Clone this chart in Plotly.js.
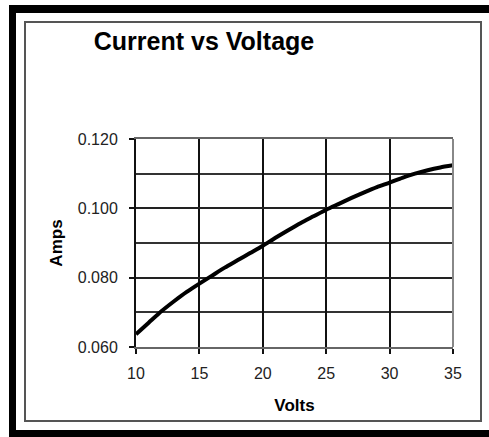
<!DOCTYPE html>
<html>
<head>
<meta charset="utf-8">
<script src="https://cdn.plot.ly/plotly-3.0.1.min.js"></script>
<style>
  html, body { margin: 0; padding: 0; background: #fff; }
  #chart { width: 489px; height: 437px; }
</style>
</head>
<body>
<div id="chart"></div>
<script>
// Data
const volts = [10, 11, 12, 13, 14, 15, 16, 17, 18, 19, 20, 21, 22, 23, 24, 25, 26, 27, 28, 29, 30, 31, 32, 33, 34, 35];
const amps = [0.0637, 0.0670, 0.0703, 0.0732, 0.0759, 0.0783, 0.0806, 0.0829, 0.0850, 0.0871, 0.0892, 0.0915, 0.0937, 0.0958, 0.0977, 0.0996, 0.1013, 0.1030, 0.1046, 0.1061, 0.1074, 0.1088, 0.1100, 0.1110, 0.1118, 0.1124];
const xTicks = [10, 15, 20, 25, 30, 35];
const yTicks = [0.06, 0.08, 0.10, 0.12];
const yTickText = ['0.060', '0.080', '0.100', '0.120'];
const chartTitle = 'Current vs Voltage';
const xTitle = 'Volts';
const yTitle = 'Amps';

// Layout geometry (pixels)
const W = 489, H = 437;
const M = { l: 136, r: 36, t: 139, b: 90 };
const pw = W - M.l - M.r, ph = H - M.t - M.b;
const px = x => (x - M.l) / pw;
const py = y => (H - M.b - y) / ph;

const FONT = 'Liberation Sans, Arial, sans-serif';

const shapes = [
  // thick black frame (top, left, bottom)
  { type: 'rect', xref: 'paper', yref: 'paper', x0: px(9), x1: px(489), y0: py(5), y1: py(13), fillcolor: '#000', line: { width: 0 } },
  { type: 'rect', xref: 'paper', yref: 'paper', x0: px(9), x1: px(16), y0: py(5), y1: py(437), fillcolor: '#000', line: { width: 0 } },
  { type: 'rect', xref: 'paper', yref: 'paper', x0: px(9), x1: px(489), y0: py(430), y1: py(437), fillcolor: '#000', line: { width: 0 } },
  // inner thin gray frame
  { type: 'rect', xref: 'paper', yref: 'paper', x0: px(25), x1: px(481), y0: py(22), y1: py(421), fillcolor: 'rgba(0,0,0,0)', line: { color: '#555', width: 2 } },
  // right plot border (gray)
  { type: 'line', xref: 'paper', yref: 'paper', x0: 1, x1: 1, y0: 0, y1: 1, line: { color: '#888', width: 2 } }
];

const trace = {
  x: volts,
  y: amps,
  type: 'scatter',
  mode: 'lines',
  line: { color: '#000', width: 4, shape: 'spline', smoothing: 0.6 },
  hoverinfo: 'none'
};

const layout = {
  width: W,
  height: H,
  margin: M,
  paper_bgcolor: '#fff',
  plot_bgcolor: '#fff',
  showlegend: false,
  title: {
    text: chartTitle,
    font: { family: FONT, size: 25, color: '#000', weight: 'bold' },
    xref: 'container', yref: 'container',
    x: 204 / W, xanchor: 'center',
    y: 1 - 41 / H, yanchor: 'middle'
  },
  xaxis: {
    range: [10, 35],
    tickvals: xTicks,
    ticktext: xTicks.map(String),
    showgrid: true,
    gridcolor: '#111',
    gridwidth: 2,
    zeroline: false,
    showline: true,
    linecolor: '#666',
    linewidth: 2,
    mirror: true,
    ticks: 'outside',
    ticklen: 5,
    tickwidth: 2,
    tickcolor: '#111',
    ticklabelstandoff: 6,
    tickfont: { family: FONT, size: 16, color: '#222' },
    title: { text: xTitle, font: { family: FONT, size: 17, color: '#000', weight: 'bold' }, standoff: 18 },
    fixedrange: true
  },
  yaxis: {
    range: [0.06, 0.12],
    tickvals: yTicks,
    ticktext: yTickText,
    showgrid: true,
    gridcolor: '#222',
    gridwidth: 2,
    minor: { dtick: 0.01, tick0: 0.06, showgrid: true, gridcolor: '#333', gridwidth: 2, ticks: '' },
    zeroline: false,
    showline: true,
    linecolor: '#111',
    linewidth: 2,
    ticks: 'outside',
    ticklen: 5,
    tickwidth: 2,
    tickcolor: '#111',
    ticklabelstandoff: 8,
    tickfont: { family: FONT, size: 16, color: '#222' },
    title: { text: yTitle, font: { family: FONT, size: 17, color: '#000', weight: 'bold' }, standoff: 11 },
    fixedrange: true
  },
  shapes: shapes
};

Plotly.newPlot('chart', [trace], layout, { displayModeBar: false, staticPlot: true });
</script>
</body>
</html>
